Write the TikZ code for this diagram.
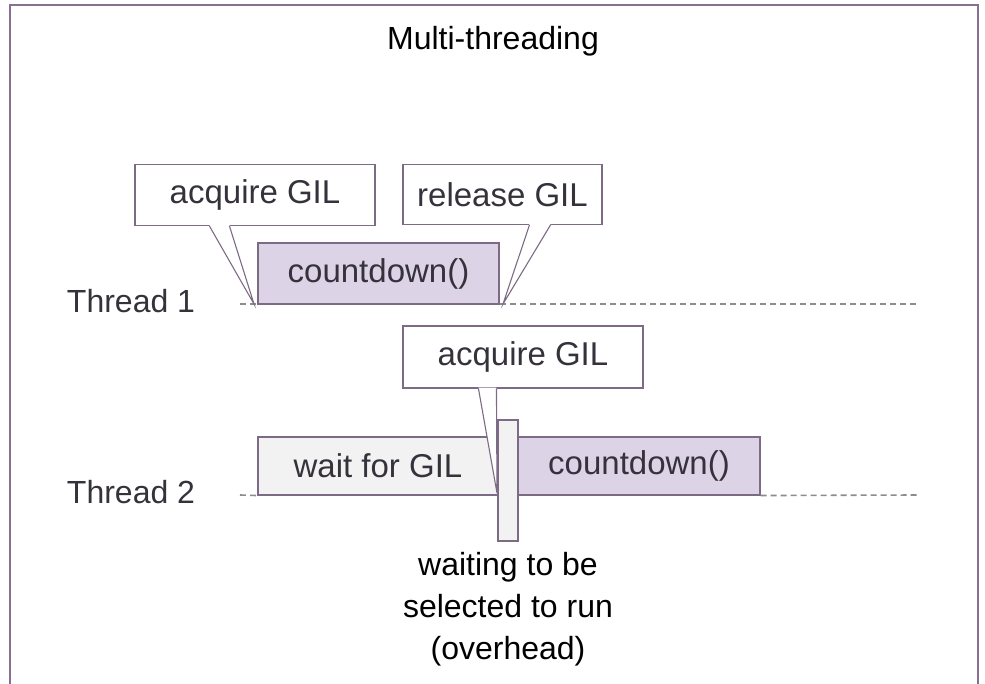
\documentclass[tikz,border=0pt]{standalone}
\usepackage{fontspec}
\setmainfont{Liberation Sans}
\usetikzlibrary{calc}
\definecolor{frm}{HTML}{8A7090}
\definecolor{bd}{HTML}{7D6B85}
\definecolor{lav}{HTML}{DCD3E6}
\definecolor{wt}{HTML}{F3F2F3}
\definecolor{txt}{HTML}{36323C}
\definecolor{dsh}{HTML}{8C8C8C}
\begin{document}
\begin{tikzpicture}[x=1pt,y=1pt,
  box/.style={draw=bd,line width=1.1pt,rectangle,inner sep=0pt,text=txt,font=\fontsize{33}{40}\selectfont},
  tl/.style={draw=bd,line width=1.1pt,line join=miter},
  lbl/.style={text=txt,font=\fontsize{32}{40}\selectfont,inner sep=0pt},
  dl/.style={draw=dsh,line width=1.6pt,dash pattern=on 6pt off 4pt}]
\useasboundingbox (0,0) rectangle (985,683);
\begin{scope}
\clip (0,0) rectangle (985,683);
\fill[white] (0,0) rectangle (985,683);
\draw[frm,line width=1.5pt] (10,-10) -- (10,678) -- (978,678) -- (978,-10);
\end{scope}
\node[lbl,text=black] (title) at (493,642) {Multi-threading};

% thread lines
\coordinate (l1a) at (240,379);
\coordinate (l1b) at (918,379);
\coordinate (l2a) at (240,188);
\coordinate (l2b) at (918,188);
\draw[dl] (l1a) -- (l1b);
\node[lbl] (th1) at (131,382) {Thread 1};
\node[lbl] (th2) at (131,191) {Thread 2};

% thread 1
\node[box,fill=lav,minimum width=241pt,minimum height=61pt] (cd1) at (378.5,409.5) {countdown()};
\node[box,fill=white,minimum width=240pt,minimum height=61pt] (ac1) at (255,488) {acquire GIL};
\node[box,fill=white,minimum width=199pt,minimum height=60pt] (rel) at (502.5,488.5) {release GIL};
\coordinate (tip1) at (254,379);
\coordinate (tip2) at (503,379);
\fill[white] ($(ac1.south west)+(75,1)$) -- (tip1) -- ($(ac1.south west)+(95,1)$) -- cycle;
\draw[tl] ($(ac1.south west)+(75,0)$) -- (tip1) -- ($(ac1.south west)+(95,0)$);
\fill[white] ($(rel.south west)+(127,1)$) -- (tip2) -- ($(rel.south west)+(148,1)$) -- cycle;
\draw[tl] ($(rel.south west)+(127,0)$) -- (tip2) -- ($(rel.south west)+(148,0)$);

% thread 2
\node[box,fill=wt,minimum width=240pt,minimum height=58pt] (wait) at (378,217) {wait for GIL};
\node[box,fill=lav,minimum width=242pt,minimum height=58pt] (cd2) at (639,217) {countdown()};
\node[box,fill=wt,minimum width=20pt,minimum height=121pt] (ov) at (508,202.5) {};
\draw[dl] (l2a) -- (wait.south west);
\draw[dl] (cd2.south east) -- (l2b);
\node[box,fill=white,minimum width=240pt,minimum height=62pt] (ac2) at (523,326) {acquire GIL};
\coordinate (tip3) at (497,190);
\fill[white] ($(ac2.south west)+(76,1)$) -- (tip3) -- ($(ac2.south west)+(94,1)$) -- cycle;
\draw[tl] ($(ac2.south west)+(76,0)$) -- (tip3) -- ($(ac2.south west)+(94,0)$);

\node[lbl,align=center,text=black,font=\fontsize{32}{42}\selectfont] (note) at (508,74) {waiting to be\\selected to run\\(overhead)};
\end{tikzpicture}
\end{document}
